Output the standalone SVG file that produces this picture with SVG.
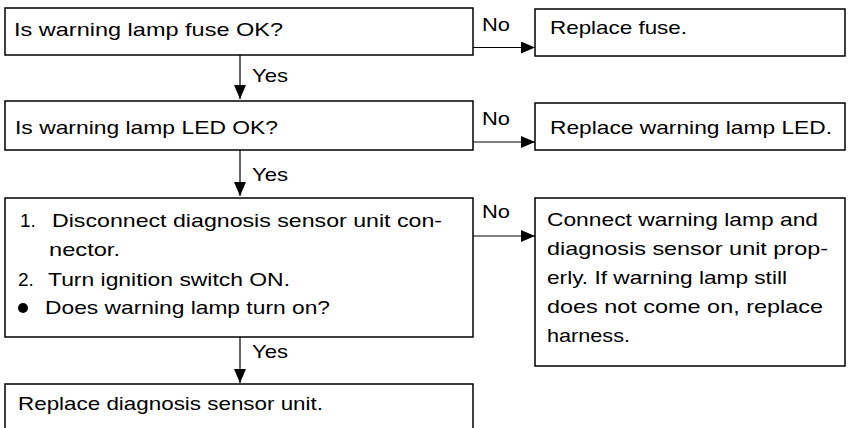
<svg xmlns="http://www.w3.org/2000/svg" width="858" height="428" viewBox="0 0 858 428">
<style>
.box{fill:#fff;stroke:#000;stroke-width:1.5}
.t{font-family:"Liberation Sans",Arial,sans-serif;font-size:19px;fill:#000}
.c{stroke:#000;stroke-width:1.2;fill:none}
</style>
<defs>
<marker id="ah" markerWidth="14" markerHeight="12" refX="14" refY="6" orient="auto" markerUnits="userSpaceOnUse">
<path d="M0,0 L14,6 L0,12 Z" fill="#000"/>
</marker>
</defs>
<rect width="858" height="428" fill="#fff"/>
<g id="connectors">
<line class="c" x1="473" y1="47.5" x2="535" y2="47.5" marker-end="url(#ah)"/>
<line class="c" x1="473" y1="142" x2="535" y2="142" marker-end="url(#ah)"/>
<line class="c" x1="473" y1="236" x2="535" y2="236" marker-end="url(#ah)"/>
<line class="c" x1="240" y1="55" x2="240" y2="99" marker-end="url(#ah)"/>
<line class="c" x1="240" y1="150" x2="240" y2="196" marker-end="url(#ah)"/>
<line class="c" x1="240" y1="337" x2="240" y2="383" marker-end="url(#ah)"/>
<text class="t" x="482" y="31" textLength="28" lengthAdjust="spacingAndGlyphs">No</text>
<text class="t" x="482" y="125" textLength="28" lengthAdjust="spacingAndGlyphs">No</text>
<text class="t" x="482" y="218" textLength="28" lengthAdjust="spacingAndGlyphs">No</text>
<text class="t" x="252" y="82" textLength="36" lengthAdjust="spacingAndGlyphs">Yes</text>
<text class="t" x="252" y="181" textLength="36" lengthAdjust="spacingAndGlyphs">Yes</text>
<text class="t" x="252" y="358" textLength="36" lengthAdjust="spacingAndGlyphs">Yes</text>
</g>
<g id="q1">
<rect class="box" x="5" y="8" width="468" height="47"/>
<text class="t" x="14" y="36" textLength="269" lengthAdjust="spacingAndGlyphs">Is warning lamp fuse OK?</text>
</g>
<g id="a1">
<rect class="box" x="535" y="9" width="310" height="47"/>
<text class="t" x="550" y="34" textLength="137" lengthAdjust="spacingAndGlyphs">Replace fuse.</text>
</g>
<g id="q2">
<rect class="box" x="5" y="101" width="468" height="49"/>
<text class="t" x="15" y="134" textLength="263" lengthAdjust="spacingAndGlyphs">Is warning lamp LED OK?</text>
</g>
<g id="a2">
<rect class="box" x="535" y="103" width="310" height="47"/>
<text class="t" x="550" y="134" textLength="282" lengthAdjust="spacingAndGlyphs">Replace warning lamp LED.</text>
</g>
<g id="q3">
<rect class="box" x="5" y="198" width="468" height="139"/>
<text class="t" x="20" y="227">1.</text>
<text class="t" x="52" y="227" textLength="390" lengthAdjust="spacingAndGlyphs">Disconnect diagnosis sensor unit con-</text>
<text class="t" x="49" y="256" textLength="71" lengthAdjust="spacingAndGlyphs">nector.</text>
<text class="t" x="18" y="286">2.</text>
<text class="t" x="48" y="286" textLength="242" lengthAdjust="spacingAndGlyphs">Turn ignition switch ON.</text>
<circle cx="23" cy="308" r="5" fill="#000"/>
<text class="t" x="45" y="314" textLength="285" lengthAdjust="spacingAndGlyphs">Does warning lamp turn on?</text>
</g>
<g id="a3">
<rect class="box" x="535" y="198" width="310" height="168"/>
<text class="t" x="547" y="226" textLength="271" lengthAdjust="spacingAndGlyphs">Connect warning lamp and</text>
<text class="t" x="547" y="255" textLength="281" lengthAdjust="spacingAndGlyphs">diagnosis sensor unit prop-</text>
<text class="t" x="547" y="284" textLength="240" lengthAdjust="spacingAndGlyphs">erly. If warning lamp still</text>
<text class="t" x="547" y="313" textLength="276" lengthAdjust="spacingAndGlyphs">does not come on, replace</text>
<text class="t" x="547" y="342" textLength="83" lengthAdjust="spacingAndGlyphs">harness.</text>
</g>
<g id="r4">
<rect class="box" x="5" y="384" width="468" height="60"/>
<text class="t" x="18" y="410" textLength="305" lengthAdjust="spacingAndGlyphs">Replace diagnosis sensor unit.</text>
</g>
</svg>
